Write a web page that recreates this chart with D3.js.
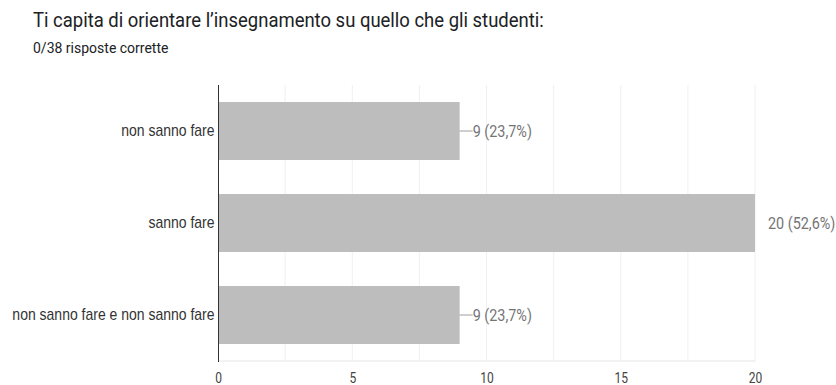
<!DOCTYPE html>
<html>
<head>
<meta charset="utf-8">
<script src="https://cdn.jsdelivr.net/npm/d3@7"></script>
<style>
  html, body { margin: 0; padding: 0; background: #fff; }
  svg { display: block; }
</style>
</head>
<body>
<svg id="chart" width="836" height="385"></svg>
<script>
// Survey question and answer counts
const title = "Ti capita di orientare l’insegnamento su quello che gli studenti:";
const subtitle = "0/38 risposte corrette";
const categories = ["non sanno fare", "sanno fare", "non sanno fare e non sanno fare"];
const counts = [9, 20, 9];
const totalResponses = 38;
const xTicks = [0, 5, 10, 15, 20];
const gridValues = [2.5, 5, 7.5, 10, 12.5, 15, 17.5, 20];

const svg = d3.select("#chart");

// Narrow text: draw at (x, y) and squeeze horizontally
function narrowText(sel, x, y, sx) {
  return sel.attr("transform", `translate(${x},${y}) scale(${sx},1)`);
}

narrowText(svg.append("text"), 33, 27, 0.88)
  .attr("font-family", "Roboto, sans-serif")
  .attr("font-size", 21)
  .attr("fill", "#202124")
  .text(title);

svg.append("text")
  .attr("x", 33).attr("y", 53)
  .attr("font-family", "Roboto, sans-serif")
  .attr("font-size", 14)
  .attr("fill", "#202124")
  .text(subtitle);

const x = d3.scaleLinear().domain([0, 20]).range([218, 755]);
const y = d3.scaleBand().domain(categories).range([85, 361]).paddingInner(0.37).paddingOuter(0.185);

// Vertical gridlines
svg.append("g").selectAll("line").data(gridValues).join("line")
  .attr("x1", d => x(d)).attr("x2", d => x(d))
  .attr("y1", 85).attr("y2", 361)
  .attr("stroke", "#f0f0f0").attr("stroke-width", 1);

// Baseline
svg.append("line")
  .attr("x1", 218).attr("x2", 755)
  .attr("y1", 361).attr("y2", 361)
  .attr("stroke", "#e6e6e6");

// Bars
svg.append("g").selectAll("rect").data(categories).join("rect")
  .attr("x", x(0))
  .attr("y", d => y(d))
  .attr("width", (d, i) => x(counts[i]) - x(0))
  .attr("height", y.bandwidth())
  .attr("fill", "#bdbdbd");

// Category axis
const yAxis = svg.append("g")
  .attr("transform", `translate(${x(0)},0)`)
  .call(d3.axisLeft(y).tickSize(0).tickPadding(4));
yAxis.select(".domain").attr("stroke", "#333").attr("d", "M0.5,85V362");
yAxis.selectAll("text")
  .attr("transform", "scale(0.875,1)")
  .attr("font-family", "'Liberation Sans', Arial, sans-serif")
  .attr("font-size", 16)
  .attr("fill", "#333");

// Value axis
const xAxis = svg.append("g")
  .attr("transform", "translate(0,361)")
  .call(d3.axisBottom(x).tickValues(xTicks).tickSize(0).tickPadding(11).tickFormat(d3.format("d")));
xAxis.select(".domain").remove();
xAxis.selectAll("text")
  .attr("transform", "scale(0.8,1)")
  .attr("font-family", "Roboto, sans-serif")
  .attr("font-size", 15)
  .attr("fill", "#444");

// Value labels with leader lines
const maxCount = d3.max(counts);
const fmtPct = v => (v * 100).toFixed(1).replace(".", ",") + "%";
const labels = svg.append("g");
categories.forEach((c, i) => {
  const v = counts[i];
  const cy = y(c) + y.bandwidth() / 2;
  const end = x(v);
  if (v < maxCount) {
    labels.append("line")
      .attr("x1", end).attr("x2", end + 13)
      .attr("y1", cy).attr("y2", cy)
      .attr("stroke", "#9e9e9e");
  }
  narrowText(labels.append("text"), end + 13, cy, 0.9)
    .attr("dy", "0.35em")
    .attr("font-family", "Roboto, sans-serif")
    .attr("font-size", 16)
    .attr("fill", "#757575")
    .text(`${v} (${fmtPct(v / totalResponses)})`);
});
</script>
</body>
</html>
